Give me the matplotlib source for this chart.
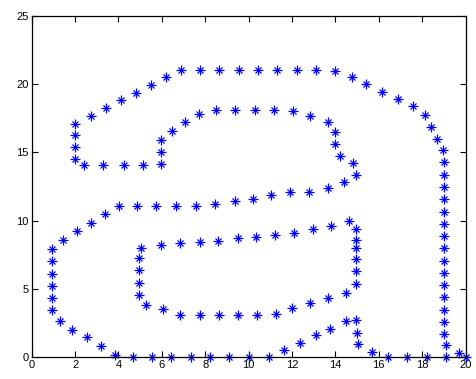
import matplotlib
matplotlib.use("Agg")
import matplotlib.pyplot as plt

# Outer contour of the letter
outer_x = [2.0, 2.0, 2.0, 2.0, 2.72, 3.43, 4.1, 4.81, 5.5, 6.18, 6.88, 7.77, 8.63, 9.55,
           10.45, 11.32, 12.24, 13.12, 14.0, 14.75, 15.42, 16.17, 16.87, 17.59, 18.13,
           18.4, 18.67, 18.94,
           19.0, 19.0, 19.0, 19.0, 19.0, 19.0, 19.0, 19.0, 19.0, 19.0, 19.0, 19.0, 19.0,
           19.0, 19.0, 19.09, 19.09, 19.72, 20.0, 18.2, 17.31, 16.41, 15.67, 15.03, 15.0,
           14.97, 14.47, 13.75, 13.09, 12.35, 11.63, 10.92, 10.0, 9.09, 8.24, 7.36, 6.44,
           5.56, 4.69, 3.82, 3.18, 2.55, 1.87, 1.3, 0.92, 0.92, 0.92, 0.92, 0.92, 0.92,
           1.46, 2.09, 2.72, 3.4, 4.01, 4.87, 5.75, 6.67, 7.56, 8.45, 9.35, 10.2, 11.05,
           11.92, 12.78, 13.64, 14.4, 14.97, 14.82, 14.19, 13.96, 13.96, 13.67, 12.83,
           12.04, 11.17, 10.28, 9.39, 8.51, 7.72, 7.07, 6.47, 5.97, 5.97, 5.97, 5.12,
           4.24, 3.3, 2.41]
outer_y = [14.5, 15.4, 16.28, 17.1, 17.66, 18.25, 18.86, 19.32, 19.9, 20.5, 21.0, 21.0,
           21.0, 21.0, 21.0, 21.0, 21.0, 21.0, 20.95, 20.5, 19.98, 19.42, 18.88, 18.37,
           17.72, 16.85, 15.95, 15.14,
           14.27, 13.37, 12.46, 11.58, 10.66, 9.77, 8.9, 7.99, 7.08, 6.17, 5.3, 4.44,
           3.47, 2.58, 1.71, 0.92, 0.0, 0.3, 0.0, 0.0, 0.0, 0.0, 0.37, 1.0, 1.8,
           2.75, 2.68, 2.1, 1.63, 1.07, 0.51, 0.0, 0.0, 0.0, 0.0, 0.0, 0.0,
           0.0, 0.0, 0.17, 0.83, 1.46, 2.02, 2.68, 3.46, 4.34, 5.21, 6.12, 7.02, 7.9,
           8.58, 9.24, 9.82, 10.5, 11.06, 11.06, 11.06, 11.06, 11.06, 11.23, 11.45, 11.62,
           11.87, 12.08, 12.08, 12.4, 12.82, 13.33, 14.2, 14.77, 15.6, 16.47, 17.2, 17.67,
           18.05, 18.1, 18.1, 18.1, 18.1, 17.79, 17.2, 16.55, 15.9, 15.0, 14.13, 14.06,
           14.06, 14.06, 14.06]

# Inner bowl contour
inner_x = [5.05, 5.98, 6.85, 7.74, 8.6, 9.49, 10.35, 11.2, 12.09, 12.96, 13.81, 14.63,
           14.97, 14.97, 14.97, 14.97, 14.97, 14.97, 14.47, 13.68, 12.81, 12.01, 11.28,
           10.38, 9.52, 8.63, 7.74, 6.85, 6.05, 5.28, 4.95, 4.95, 4.95, 4.95]
inner_y = [8.02, 8.21, 8.38, 8.45, 8.55, 8.7, 8.82, 8.94, 9.11, 9.36, 9.63, 9.97,
           9.4, 8.57, 8.02, 7.2, 6.31, 5.34, 4.7, 4.38, 4.0, 3.63, 3.19,
           3.07, 3.07, 3.07, 3.07, 3.07, 3.51, 3.87, 4.6, 5.48, 6.38, 7.24]

x_ticks = [0, 2, 4, 6, 8, 10, 12, 14, 16, 18, 20]
y_ticks = [0, 5, 10, 15, 20, 25]

plt.rcParams['font.family'] = ['Liberation Sans', 'DejaVu Sans']

fig = plt.figure(figsize=(4.77, 3.79), dpi=100)
ax = fig.add_axes([0.0665, 0.057, 0.9095, 0.9015])

xs = outer_x + inner_x
ys = outer_y + inner_y
ax.plot(xs, ys, linestyle='none', marker='+', markersize=7, color='#0000ff',
        markeredgewidth=0.9, clip_on=False)
ax.plot(xs, ys, linestyle='none', marker='x', markersize=4.5, color='#0000ff',
        markeredgewidth=0.9, clip_on=False)

ax.set_xlim(0, 20)
ax.set_ylim(0, 25)
ax.set_xticks(x_ticks)
ax.set_yticks(y_ticks)
ax.tick_params(direction='in', length=4, width=0.8, top=True, right=True,
               labelsize=8, pad=2, colors='black')
for s in ax.spines.values():
    s.set_linewidth(0.9)
    s.set_color('black')

fig.savefig('out.png', dpi=100)
